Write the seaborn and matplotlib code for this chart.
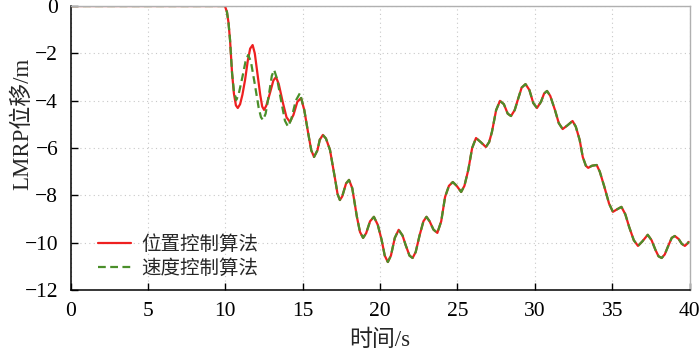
import pandas as pd
import numpy as np
import seaborn as sns
import matplotlib
matplotlib.use('Agg')
import matplotlib.pyplot as plt

sns.set_style('ticks')
plt.rcParams['font.family'] = ['Liberation Serif', 'Noto Sans CJK SC', 'DejaVu Sans']
plt.rcParams['axes.unicode_minus'] = True

# 位置控制算法, part before 15 s
t_pos_head = [0, 9.97, 10.1, 10.2, 10.3, 10.43, 10.55, 10.68, 10.8, 10.95, 11.1,
              11.27, 11.45, 11.6, 11.76, 11.9, 12.0, 12.1, 12.25, 12.38, 12.5,
              12.65, 12.88, 13.1, 13.27, 13.45, 13.72, 13.95, 14.17, 14.4, 14.65,
              14.89]
y_pos_head = [0, 0, -0.25, -0.7, -1.44, -2.83, -3.7, -4.2, -4.31, -4.15, -3.75,
              -3.13, -2.3, -1.8, -1.65, -2.0, -2.5, -3.0, -3.75, -4.25, -4.39,
              -4.2, -3.68, -3.15, -3.0, -3.3, -4.1, -4.7, -4.9, -4.6, -4.05,
              -3.89]

# 速度控制算法, part before 15 s
t_vel_head = [0, 9.97, 10.1, 10.2, 10.3, 10.43, 10.55, 10.7, 10.85, 11.1, 11.3,
              11.47, 11.65, 11.9, 12.15, 12.3, 12.43, 12.6, 12.8, 13.0, 13.15,
              13.35, 13.6, 13.85, 14.05, 14.25, 14.55, 14.82]
y_vel_head = [0, 0, -0.25, -0.7, -1.44, -2.83, -3.6, -3.97, -3.75, -3.0, -2.35,
              -2.07, -2.35, -3.3, -4.3, -4.7, -4.82, -4.55, -3.8, -2.95, -2.7,
              -3.1, -4.0, -4.85, -5.1, -4.8, -4.0, -3.68]

# both algorithms after 15 s (the two curves overlap)
t_tail = [15.1, 15.35, 15.55, 15.73, 15.95, 16.1, 16.3, 16.5, 16.76, 17.1, 17.25,
          17.4, 17.55, 17.8, 17.99, 18.2, 18.5, 18.7, 18.9, 19.1, 19.35, 19.6,
          19.85, 20.1, 20.3, 20.5, 20.7, 20.95, 21.2, 21.45, 21.65, 21.9, 22.1,
          22.3, 22.55, 22.8, 23.0, 23.2, 23.45, 23.7, 23.95, 24.2, 24.45, 24.7,
          24.95, 25.24, 25.45, 25.7, 25.95, 26.2, 26.5, 26.84, 27.05, 27.23,
          27.5, 27.75, 28.0, 28.25, 28.46, 28.7, 28.9, 29.15, 29.4, 29.65, 29.9,
          30.14, 30.4, 30.6, 30.79, 31.0, 31.3, 31.55, 31.8, 32.1, 32.44, 32.65,
          32.9, 33.1, 33.3, 33.45, 33.7, 34.0, 34.2, 34.5, 34.8, 35.05, 35.3,
          35.6, 35.85, 36.1, 36.4, 36.67, 36.95, 37.3, 37.55, 37.8, 38.0, 38.2,
          38.4, 38.6, 38.85, 39.05, 39.3, 39.5, 39.7, 39.85, 39.95]
y_tail = [-4.4, -5.37, -6.1, -6.38, -6.1, -5.65, -5.45, -5.6, -6.08, -7.35, -7.95,
          -8.2, -8.05, -7.5, -7.35, -7.7, -8.91, -9.55, -9.8, -9.6, -9.1, -8.91,
          -9.25, -9.89, -10.55, -10.82, -10.55, -9.8, -9.46, -9.7, -10.1, -10.55,
          -10.65, -10.4, -9.7, -9.1, -8.91, -9.1, -9.45, -9.59, -9.1, -8.07,
          -7.6, -7.44, -7.6, -7.86, -7.6, -6.93, -6.0, -5.58, -5.75, -5.96,
          -5.75, -5.32, -4.4, -4.01, -4.15, -4.55, -4.65, -4.4, -3.97, -3.45,
          -3.3, -3.55, -4.1, -4.31, -4.05, -3.7, -3.59, -3.8, -4.39, -4.95,
          -5.2, -5.05, -4.86, -5.1, -5.66, -6.38, -6.75, -6.84, -6.75, -6.72,
          -7.0, -7.65, -8.35, -8.7, -8.6, -8.49, -8.8, -9.34, -9.9, -10.14,
          -9.95, -9.67, -9.9, -10.31, -10.58, -10.65, -10.5, -10.18, -9.8,
          -9.72, -9.85, -10.05, -10.14, -10.05, -9.97]

methods = ['位置控制算法', '速度控制算法']
colors = {'位置控制算法': '#ee2020', '速度控制算法': '#4a8f2a'}

df = pd.concat([
    pd.DataFrame({'t': t_pos_head + t_tail, 'y': y_pos_head + y_tail, 'method': methods[0]}),
    pd.DataFrame({'t': t_vel_head + t_tail, 'y': y_vel_head + y_tail, 'method': methods[1]}),
])

fig = plt.figure(figsize=(7, 3.54), dpi=100)
ax = fig.add_axes([0.101, 0.181, 0.884, 0.802])

sns.lineplot(data=df, x='t', y='y', hue='method', style='method',
             hue_order=methods, style_order=methods, palette=colors,
             dashes={methods[0]: '', methods[1]: (3.5, 2)},
             estimator=None, sort=False, linewidth=1.6, ax=ax)

ax.set_xlim(0, 40)
ax.set_ylim(-12, 0)
ax.set_xticks(np.arange(0, 41, 5))
ax.set_yticks(np.arange(-12, 1, 2))
ax.grid(True, linestyle=(0, (1, 3)), color='#c8c8c8', linewidth=0.8)
ax.tick_params(direction='in', length=5, width=1, labelsize=15.5, colors='black',
               top=False, right=False, pad=9)
for s in ['left', 'bottom']:
    ax.spines[s].set_color('black')
    ax.spines[s].set_linewidth(1.1)
for s in ['top', 'right']:
    ax.spines[s].set_color('#b0b0b0')
    ax.spines[s].set_linewidth(1.0)

ax.set_xlabel('时间/s', fontsize=16.5, labelpad=6)
ax.set_ylabel('LMRP位移/m', fontsize=16.5)
ax.yaxis.set_label_coords(-0.06, 0.585)

ax.legend(loc='lower left', bbox_to_anchor=(0.025, 0.0), frameon=False,
          fontsize=14, handlelength=1.7, handletextpad=0.55, labelspacing=0.3,
          borderaxespad=0.2)

plt.savefig('out.png', dpi=100)
plt.close()
